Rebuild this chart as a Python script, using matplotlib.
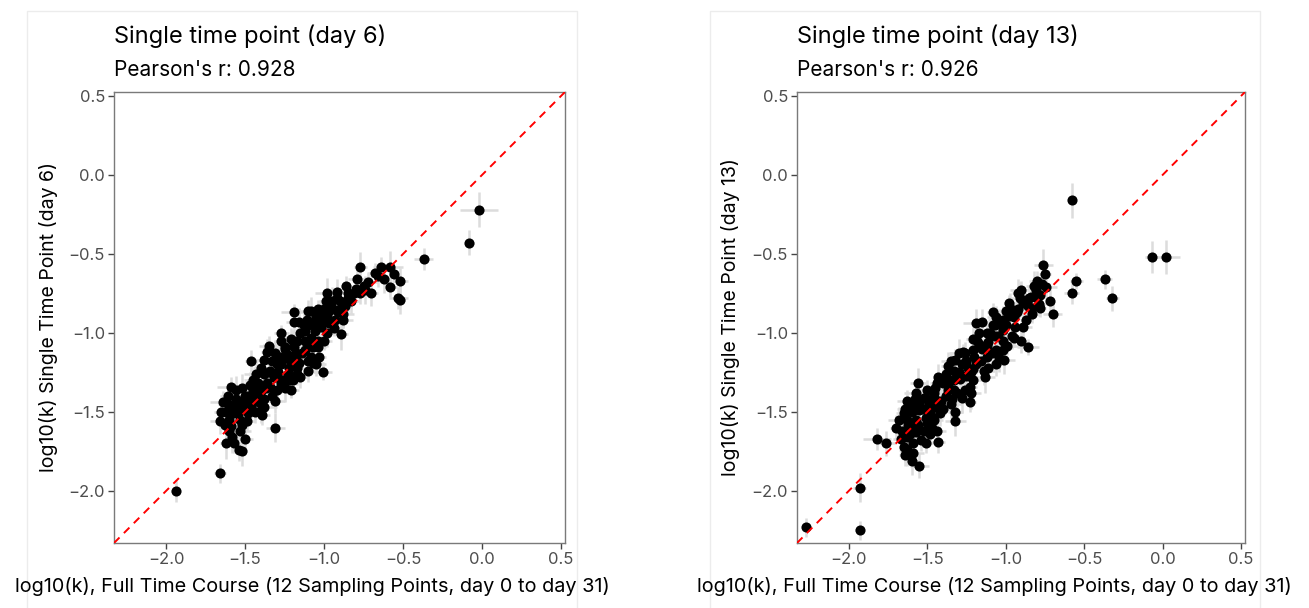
import numpy as np
import matplotlib
matplotlib.use("Agg")
import matplotlib.pyplot as plt
from matplotlib.patches import Rectangle

plt.rcParams['font.family'] = ['Inter', 'DejaVu Sans']

# day 6 single time point vs full time course, log10(k)
d6_x = [-0.37, -0.77, -0.64, -0.58, -0.56, -0.52, -0.58, -0.53, -0.52, -0.75,
        -0.70, -0.80, -0.85, -0.77, -0.81, -0.92, -0.98, -0.99, -0.90, -0.87,
        -0.95, -0.91, -0.88, -1.08, -1.10, -1.04, -1.02, -0.98, -1.19, -1.19,
        -1.16, -1.11, -1.06, -1.02, -0.97, -0.89, -1.12, -1.08, -1.04, -1.17,
        -1.21, -1.27, -1.25, -1.35, -1.31, -1.23, -1.18, -1.12, -1.07, -1.04,
        -1.03, -1.10, -1.07, -1.10, -1.01, -1.16, -1.21, -1.27, -1.38, -1.46,
        -1.40, -1.34, -1.38, -1.31, -1.23, -1.17, -1.20, -1.27, -1.36, -1.42,
        -1.45, -1.40, -1.34, -1.31, -1.25, -1.21, -1.38, -1.40, -1.39, -1.31,
        -1.48, -1.52, -1.59, -1.61, -1.56, -1.53, -1.59, -1.65, -1.66, -1.63,
        -1.57, -1.48, -1.53, -1.59, -1.53, -1.50, -1.62, -1.57, -1.54, -1.52,
        -1.66, -1.61, -1.46, -1.44, -1.94, -0.02, -0.08, -1.55, -1.50, -1.45,
        -1.42, -1.35, -1.30, -1.28, -1.25, -1.20, -1.15, -1.10, -1.05, -1.00,
        -0.95, -0.90, -0.85, -1.12, -1.18, -1.32, -1.48, -1.58, -1.60, -1.52,
        -1.38, -1.22, -1.08, -0.98, -0.93, -1.27, -1.36, -0.72, -0.66, -0.62,
        -1.62, -1.60, -1.56, -1.54, -1.51, -1.49, -1.47, -1.44, -1.43, -1.41,
        -1.37, -1.33, -1.33, -1.29, -1.26, -1.24, -1.22, -1.19, -1.17, -1.14,
        -1.13, -1.09, -1.06, -1.05, -1.01, -1.00, -0.97, -0.94, -0.92, -0.88,
        -0.86, -0.83, -0.79, -0.74, -0.68, -1.64, -1.58, -1.46, -1.30, -1.15]
d6_y = [-0.53, -0.58, -0.58, -0.58, -0.63, -0.67, -0.71, -0.78, -0.79, -0.70,
        -0.75, -0.72, -0.78, -0.75, -0.75, -0.74, -0.75, -0.80, -0.80, -0.83,
        -0.84, -0.87, -0.92, -0.86, -0.86, -0.85, -0.89, -0.90, -0.87, -0.93,
        -0.93, -0.92, -0.94, -0.96, -0.94, -1.01, -0.99, -1.03, -1.05, -1.05,
        -1.04, -1.05, -1.09, -1.08, -1.13, -1.14, -1.13, -1.11, -1.09, -1.09,
        -1.15, -1.18, -1.19, -1.24, -1.25, -1.19, -1.19, -1.20, -1.17, -1.18,
        -1.22, -1.24, -1.26, -1.28, -1.26, -1.26, -1.30, -1.32, -1.32, -1.32,
        -1.36, -1.37, -1.34, -1.43, -1.35, -1.36, -1.47, -1.49, -1.52, -1.60,
        -1.40, -1.35, -1.34, -1.40, -1.42, -1.46, -1.47, -1.50, -1.56, -1.58,
        -1.51, -1.51, -1.55, -1.59, -1.62, -1.67, -1.70, -1.70, -1.74, -1.75,
        -1.89, -1.45, -1.47, -1.43, -2.00, -0.22, -0.43, -1.45, -1.40, -1.30,
        -1.38, -1.25, -1.20, -1.15, -1.10, -1.05, -1.00, -0.95, -0.90, -0.85,
        -0.80, -0.85, -0.75, -1.05, -1.15, -1.28, -1.48, -1.50, -1.55, -1.58,
        -1.42, -1.22, -1.15, -1.00, -0.92, -1.00, -1.12, -0.68, -0.64, -0.66,
        -1.50, -1.62, -1.36, -1.50, -1.44, -1.56, -1.33, -1.50, -1.26, -1.44,
        -1.35, -1.18, -1.40, -1.25, -1.30, -1.16, -1.30, -1.09, -1.22, -1.13,
        -0.95, -1.08, -0.99, -1.20, -0.92, -1.05, -0.86, -0.97, -0.78, -0.88,
        -0.70, -0.80, -0.66, -0.73, -0.62, -1.44, -1.66, -1.42, -1.36, -1.28]
# standard errors, in hundredths of a log unit
d6_xerr = [6, 4, 5, 8, 3, 5, 4, 6, 3, 5,
           4, 7, 5, 3, 6, 5, 8, 4, 6, 3,
           5, 4, 6, 7, 3, 5, 4, 6, 8, 5,
           3, 6, 4, 5, 7, 4, 5, 3, 6, 4,
           8, 5, 4, 6, 3, 7, 5, 4, 6, 5,
           4, 5, 7, 3, 6, 4, 5, 8, 6, 4,
           5, 3, 6, 4, 7, 5, 4, 6, 3, 5,
           7, 4, 5, 6, 3, 5, 8, 4, 5, 6,
           4, 6, 9, 5, 4, 7, 3, 5, 6, 4,
           5, 4, 6, 3, 7, 5, 4, 6, 5, 3,
           4, 6, 5, 7, 3, 12, 3, 5, 4, 6,
           3, 5, 6, 4, 7, 5, 3, 6, 4, 5,
           6, 4, 5, 3, 7, 4, 5, 6, 4, 5,
           5, 6, 3, 4, 7, 5, 4, 6, 5, 4,
           6, 3, 5, 7, 4, 5, 6, 3, 8, 4,
           5, 6, 4, 3, 7, 5, 4, 6, 5, 3,
           4, 7, 5, 6, 3, 5, 4, 6, 5, 7,
           3, 5, 6, 4, 5, 8, 4, 6, 5, 4]
d6_yerr = [7, 9, 6, 10, 5, 8, 6, 7, 9, 5,
           8, 6, 9, 7, 5, 8, 10, 6, 7, 9,
           6, 8, 5, 9, 7, 6, 10, 8, 5, 7,
           9, 7, 6, 8, 5, 10, 7, 9, 6, 8,
           7, 5, 9, 6, 8, 7, 10, 5, 7, 6,
           8, 9, 6, 7, 5, 9, 6, 8, 10, 7,
           6, 8, 7, 9, 5, 7, 8, 6, 9, 7,
           10, 7, 6, 8, 9, 5, 7, 8, 6, 9,
           7, 9, 6, 8, 10, 7, 5, 9, 8, 6,
           8, 6, 9, 7, 5, 8, 10, 6, 7, 9,
           6, 8, 7, 9, 7, 11, 8, 6, 9, 7,
           5, 7, 9, 6, 8, 7, 5, 8, 6, 7,
           9, 6, 7, 8, 5, 7, 9, 6, 8, 7,
           7, 8, 6, 9, 7, 5, 8, 6, 7, 9,
           8, 6, 9, 7, 10, 6, 8, 7, 9, 6,
           7, 9, 6, 8, 5, 10, 7, 8, 6, 9,
           8, 6, 10, 7, 9, 6, 8, 5, 7, 9,
           6, 8, 7, 9, 6, 7, 10, 8, 6, 7]

# day 13 single time point vs full time course, log10(k)
d13_x = [-0.76, -0.75, -0.80, -0.74, -0.81, -0.55, -0.58, -0.70, -0.78, -0.79,
         -0.84, -0.90, -0.92, -0.89, -0.98, -0.93, -0.98, -1.08, -1.06, -1.02,
         -1.00, -0.89, -0.95, -0.90, -0.86, -1.02, -1.07, -1.12, -1.19, -1.21,
         -1.17, -1.11, -1.06, -1.02, -1.01, -1.06, -1.11, -1.13, -1.21, -1.26,
         -1.30, -1.32, -1.25, -1.21, -1.25, -1.21, -1.26, -1.23, -1.28, -1.23,
         -1.33, -1.38, -1.37, -1.36, -1.40, -1.37, -1.33, -1.44, -1.41, -1.46,
         -1.52, -1.56, -1.57, -1.63, -1.60, -1.65, -1.55, -1.49, -1.46, -1.42,
         -1.47, -1.51, -1.50, -1.57, -1.63, -1.66, -1.63, -1.67, -1.57, -1.44,
         -1.32, -1.32, -1.43, -1.51, -1.65, -1.63, -1.64, -1.59, -1.60, -1.55,
         -1.82, -1.76, -1.93, -2.27, -1.93, -0.58, -0.07, 0.02, -0.37, -0.32,
         -1.60, -1.55, -1.50, -1.48, -1.45, -1.40, -1.38, -1.30, -1.28, -1.25,
         -1.20, -1.18, -1.15, -1.10, -1.05, -1.00, -0.95, -0.92, -0.88, -0.85,
         -1.58, -1.62, -1.52, -1.42, -1.33, -1.22, -1.12, -1.02, -0.98, -1.08,
         -0.80, -0.77, -0.86, -0.72, -0.83, -1.70, -1.54, -1.47, -1.35, -1.16,
         -1.64, -1.61, -1.58, -1.56, -1.53, -1.50, -1.48, -1.45, -1.43, -1.40,
         -1.37, -1.35, -1.31, -1.29, -1.27, -1.24, -1.22, -1.19, -1.17, -1.14,
         -1.12, -1.09, -1.07, -1.04, -1.03, -0.99, -0.97, -0.94, -0.91, -0.87,
         -0.83, -0.82, -0.78, -1.68, -1.59, -1.46, -1.34, -1.15, -1.05, -0.96]
d13_y = [-0.57, -0.63, -0.67, -0.71, -0.73, -0.67, -0.75, -0.88, -0.84, -0.82,
         -0.77, -0.73, -0.75, -0.81, -0.81, -0.87, -0.89, -0.87, -0.90, -0.92,
         -0.86, -0.96, -1.03, -1.05, -1.09, -0.98, -0.95, -1.00, -0.94, -1.04,
         -1.07, -1.06, -1.11, -1.11, -1.17, -1.20, -1.22, -1.28, -1.11, -1.13,
         -1.13, -1.17, -1.18, -1.23, -1.27, -1.30, -1.36, -1.34, -1.41, -1.44,
         -1.24, -1.26, -1.21, -1.30, -1.32, -1.36, -1.36, -1.32, -1.43, -1.38,
         -1.41, -1.32, -1.38, -1.43, -1.47, -1.51, -1.49, -1.45, -1.47, -1.51,
         -1.53, -1.54, -1.57, -1.55, -1.55, -1.62, -1.66, -1.67, -1.63, -1.62,
         -1.50, -1.56, -1.69, -1.70, -1.72, -1.74, -1.77, -1.76, -1.81, -1.84,
         -1.67, -1.70, -1.98, -2.23, -2.25, -0.16, -0.52, -0.52, -0.66, -0.78,
         -1.50, -1.45, -1.42, -1.50, -1.35, -1.30, -1.40, -1.25, -1.20, -1.18,
         -1.15, -1.05, -1.10, -1.00, -1.02, -0.95, -0.90, -0.85, -0.80, -0.78,
         -1.60, -1.58, -1.62, -1.45, -1.30, -1.25, -1.15, -1.05, -0.88, -0.95,
         -0.78, -0.69, -0.83, -0.80, -0.88, -1.60, -1.68, -1.60, -1.45, -1.18,
         -1.48, -1.64, -1.42, -1.58, -1.48, -1.36, -1.64, -1.42, -1.28, -1.48,
         -1.33, -1.18, -1.38, -1.29, -1.12, -1.22, -1.38, -1.20, -1.00, -1.24,
         -1.08, -1.13, -1.02, -1.16, -0.93, -1.08, -0.84, -0.96, -0.78, -0.92,
         -0.84, -0.70, -0.76, -1.55, -1.70, -1.55, -1.42, -0.93, -0.92, -1.02]
d13_xerr = [6, 4, 5, 7, 3, 4, 5, 6, 4, 5,
            5, 7, 4, 6, 3, 5, 8, 4, 6, 5,
            4, 6, 5, 3, 7, 4, 6, 5, 8, 4,
            5, 3, 6, 4, 7, 5, 4, 6, 3, 5,
            6, 4, 7, 5, 3, 6, 4, 5, 8, 4,
            5, 6, 4, 7, 3, 5, 6, 4, 5, 7,
            4, 5, 8, 6, 4, 5, 3, 6, 5, 4,
            6, 4, 5, 3, 7, 4, 6, 5, 4, 6,
            5, 7, 4, 6, 3, 5, 4, 7, 5, 6,
            9, 6, 4, 3, 3, 2, 4, 9, 5, 4,
            5, 4, 6, 5, 7, 3, 5, 4, 6, 5,
            4, 6, 5, 3, 5, 7, 4, 6, 5, 3,
            6, 5, 4, 7, 5, 4, 6, 3, 5, 6,
            4, 5, 6, 3, 5, 4, 6, 5, 7, 4,
            5, 3, 6, 4, 7, 5, 4, 6, 3, 5,
            4, 6, 5, 7, 4, 3, 6, 5, 4, 7,
            5, 4, 6, 3, 5, 7, 4, 5, 6, 4,
            6, 5, 3, 7, 4, 6, 5, 4, 6, 5]
d13_yerr = [10, 7, 6, 8, 9, 5, 7, 8, 6, 7,
            8, 6, 9, 7, 5, 8, 10, 6, 7, 9,
            7, 9, 6, 8, 5, 10, 7, 6, 9, 8,
            6, 8, 7, 5, 9, 7, 8, 10, 6, 7,
            9, 7, 5, 8, 6, 9, 7, 8, 10, 6,
            7, 6, 9, 8, 5, 7, 10, 6, 8, 9,
            8, 10, 6, 7, 9, 5, 8, 7, 6, 8,
            6, 7, 9, 8, 7, 6, 8, 9, 5, 10,
            8, 9, 7, 6, 8, 10, 7, 6, 9, 8,
            7, 8, 9, 6, 6, 11, 10, 11, 6, 8,
            7, 6, 8, 9, 5, 7, 8, 6, 9, 7,
            5, 8, 7, 9, 6, 7, 8, 5, 6, 8,
            9, 6, 7, 8, 6, 7, 9, 8, 5, 7,
            8, 6, 7, 9, 6, 8, 7, 6, 9, 7,
            7, 9, 6, 8, 10, 6, 7, 9, 8, 6,
            8, 6, 9, 7, 5, 8, 10, 6, 7, 9,
            6, 8, 7, 9, 8, 6, 9, 7, 10, 6,
            7, 9, 6, 8, 7, 9, 6, 8, 7, 8]

titles = ["Single time point (day 6)", "Single time point (day 13)"]
pearson = [0.928, 0.926]
ylabels = ["log10(k) Single Time Point (day 6)", "log10(k) Single Time Point (day 13)"]
xlabel = "log10(k), Full Time Course (12 Sampling Points, day 0 to day 31)"
ticks = [-2.0, -1.5, -1.0, -0.5, 0.0, 0.5]
lims = (-2.33, 0.525)

W, H = 1309, 608
fig = plt.figure(figsize=(W / 100, H / 100), dpi=100)

panels = [
    dict(x=d6_x, y=d6_y, xe=d6_xerr, ye=d6_yerr, left=114, right=565, frame=(27, 577),
         xlab=312, ylab=48),
    dict(x=d13_x, y=d13_y, xe=d13_xerr, ye=d13_yerr, left=797, right=1245, frame=(710, 1260),
         xlab=994, ylab=731),
]
top, bottom = 92, 543

for i, p in enumerate(panels):
    # faint plot background border
    f0, f1 = p['frame']
    fig.add_artist(Rectangle((f0 / W, -0.05), (f1 - f0) / W, 1.05 - 11 / H,
                             transform=fig.transFigure, fill=False,
                             edgecolor='#ececec', lw=1, zorder=0))

    ax = fig.add_axes([p['left'] / W, 1 - bottom / H,
                       (p['right'] - p['left']) / W, (bottom - top) / H])
    x = np.array(p['x'])
    y = np.array(p['y'])
    xe = np.array(p['xe']) / 100
    ye = np.array(p['ye']) / 100

    ax.errorbar(x, y, xerr=xe, yerr=ye, fmt='none', ecolor='#dcdcdc',
                elinewidth=1.8, capsize=0, zorder=1)
    ax.plot(x, y, 'o', color='black', ms=7.3, mew=0, zorder=2)
    ax.plot(lims, lims, color='#ff0000', lw=1.4, dashes=(4, 3.2), zorder=3)

    ax.set_xlim(lims)
    ax.set_ylim(lims)
    ax.set_xticks(ticks)
    ax.set_yticks(ticks)
    ax.set_xticklabels([f"{t:.1f}".replace('-', '\u2212') for t in ticks])
    ax.set_yticklabels([f"{t:.1f}".replace('-', '\u2212') for t in ticks])
    ax.tick_params(length=4, width=1, color='#444444', labelcolor='#4d4d4d',
                   labelsize=12, pad=2.5)
    for s in ax.spines.values():
        s.set_color('#7a7a7a')
        s.set_linewidth(1)

    fig.text(p['left'] / W, 1 - 43 / H, titles[i], fontsize=17, color='black',
             ha='left', va='baseline')
    fig.text(p['left'] / W, 1 - 76 / H, f"Pearson's r: {pearson[i]}", fontsize=15,
             color='black', ha='left', va='baseline')
    fig.text(p['xlab'] / W, 1 - 586 / H, xlabel, fontsize=14.3, color='black',
             ha='center', va='center')
    fig.text(p['ylab'] / W, 1 - 317 / H, ylabels[i], fontsize=14, color='black',
             ha='center', va='center', rotation=90)

fig.savefig("out.png", dpi=100)
